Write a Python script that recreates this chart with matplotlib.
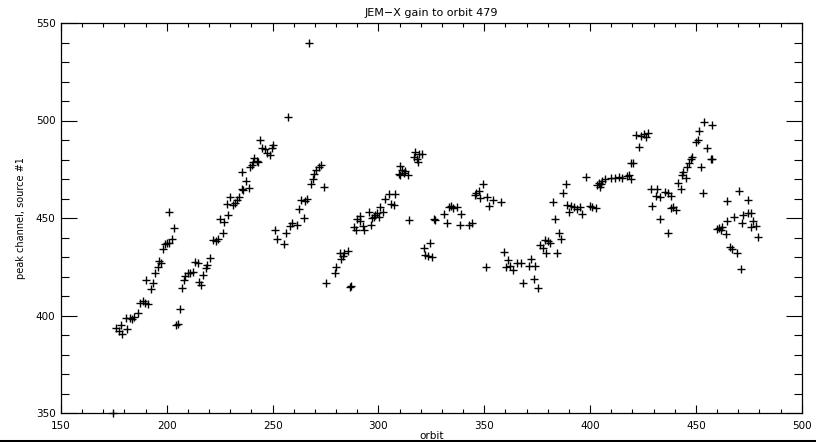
import matplotlib
matplotlib.use("Agg")
import matplotlib.pyplot as plt
from matplotlib.lines import Line2D
from matplotlib.ticker import MultipleLocator

# orbit numbers and peak channel values
orbit = [
    174.6, 267.3, 257.4,
    # group A
    176.0, 177.6, 178.2, 179.0, 180.7, 181.4, 182.6, 183.4, 184.5, 186.6, 187.4, 188.9,
    189.7, 191.3, 192.4, 190.2, 193.4, 194.5, 195.6, 196.5, 197.3, 198.4, 199.3, 200.0,
    200.8, 202.4, 203.5, 201.0,
    # group B
    204.4, 205.2, 206.3, 207.1, 207.9, 208.8, 209.8, 211.0, 212.3, 213.4, 214.7, 215.1,
    216.2, 217.3, 218.3, 219.2, 220.5, 222.0, 223.3, 224.4, 226.5, 224.9, 227.0, 228.3,
    229.1, 229.9, 231.5, 232.3, 233.1, 233.9, 235.5, 236.2, 238.6, 237.4, 235.5, 239.4,
    240.2, 240.9, 241.3, 242.5, 243.3, 244.1, 244.9, 246.5, 247.3, 248.6, 249.6, 250.1,
    # group C
    251.2, 252.3, 255.5, 256.4, 258.0, 259.1, 261.5, 262.3, 263.5, 264.6, 265.4, 266.2,
    268.1, 269.0, 269.7, 270.6, 271.7, 272.8, 274.4,
    # group D
    275.2, 279.3, 280.1, 281.6, 282.3, 283.3, 283.9, 285.4, 286.4, 287.0, 288.3, 289.5,
    290.1, 291.1, 291.4, 292.5, 293.0, 295.4, 296.5, 297.0, 297.7, 298.5, 299.3, 300.1,
    300.9, 302.2, 303.3, 304.8, 306.0, 307.5, 308.0, 309.6, 310.0, 310.4, 311.1, 312.3,
    312.7, 313.8, 314.3, 316.7, 317.5, 318.3, 318.6, 319.0, 320.6,
    # group E
    321.6, 322.2, 323.5, 324.3, 325.3, 326.1, 326.9, 331.2, 332.4, 333.2, 334.3, 335.3,
    337.2, 338.4, 339.2, 342.7, 344.3, 345.4, 346.3, 347.4, 348.2, 349.5, 350.6, 351.3,
    352.1, 354.2, 358.0,
    # group F
    359.2, 360.5, 361.1, 362.1, 363.7, 365.6, 367.5, 368.4, 371.0, 372.2, 373.4, 374.2,
    375.3, 376.3, 377.6, 378.6, 379.0, 380.0, 381.3, 382.6, 383.2, 384.2, 385.3, 386.1,
    387.3, 388.4,
    # group G
    389.2, 390.0, 390.8, 392.3, 393.9, 395.2, 396.3, 398.3, 399.9, 401.0, 402.6, 403.4,
    404.2, 404.6, 405.0, 405.7, 406.9, 410.0, 412.0, 413.6, 415.2, 417.6, 418.3, 419.5,
    419.2, 420.5, 421.5, 423.3, 423.9, 425.4, 426.3, 427.3, 428.6, 429.4, 431.0, 431.5,
    433.0, 433.1, 435.3, 436.6, 436.8, 438.1,
    # group H
    438.1, 439.3, 440.4, 441.6, 442.8, 443.6, 444.1, 445.2, 445.7, 446.8, 447.9, 448.4,
    450.0, 451.0, 451.5, 452.6, 453.5, 453.9, 455.4, 457.0, 457.8, 457.8, 459.8, 460.9,
    461.9, 462.2, 464.1, 464.6, 464.9, 466.1, 467.2, 468.0, 469.3, 470.4, 471.5, 472.0,
    472.4, 474.6, 474.6, 475.9, 475.9, 477.2, 478.3, 479.4,
]

peak = [
    350.0, 540.0, 502.0,
    # group A
    393.4, 392.1, 395.0, 390.4, 398.9, 393.1, 398.9, 398.0, 399.4, 401.1, 406.3, 407.6,
    406.6, 405.9, 413.4, 418.1, 416.5, 422.0, 424.7, 428.1, 426.8, 434.0, 436.7, 437.3,
    437.0, 439.2, 445.0, 453.0,
    # group B
    395.0, 395.5, 403.3, 414.3, 418.2, 420.3, 421.6, 421.9, 422.3, 427.3, 426.9, 417.2,
    415.6, 420.8, 424.2, 425.7, 429.6, 438.7, 438.4, 439.2, 442.1, 449.3, 448.0, 457.0,
    451.4, 460.6, 456.5, 457.8, 459.2, 460.6, 464.7, 464.4, 465.5, 468.8, 473.4, 476.0,
    477.2, 478.7, 480.6, 479.4, 478.9, 490.0, 486.1, 485.2, 483.2, 482.2, 485.7, 487.6,
    # group C
    443.8, 439.0, 436.7, 442.5, 446.0, 447.2, 446.6, 454.6, 459.2, 450.2, 458.9, 459.7,
    467.3, 469.8, 472.6, 474.6, 476.3, 477.0, 466.1,
    # group D
    416.5, 422.0, 424.7, 432.2, 429.1, 430.5, 431.9, 433.2, 414.8, 415.1, 445.2, 443.8,
    449.5, 448.6, 451.2, 445.9, 443.8, 453.2, 446.4, 449.8, 450.7, 451.5, 452.4, 450.3,
    455.8, 453.2, 459.6, 462.3, 457.2, 456.5, 462.3, 472.6, 476.7, 472.1, 474.6, 473.3,
    474.3, 472.1, 449.0, 481.4, 484.0, 480.1, 478.9, 482.8, 482.8,
    # group E
    434.5, 431.0, 430.3, 437.2, 430.0, 449.3, 449.0, 452.1, 447.3, 455.8, 456.2, 455.0,
    455.5, 446.4, 451.9, 446.4, 447.6, 461.8, 462.7, 464.0, 460.1, 467.3, 424.7, 460.6,
    456.2, 459.2, 458.0,
    # group F
    432.4, 425.0, 428.5, 425.5, 423.3, 427.1, 426.8, 416.5, 425.5, 428.8, 418.6, 425.5,
    414.3, 436.2, 434.8, 438.7, 432.2, 438.2, 437.3, 458.4, 449.3, 432.2, 442.1, 439.2,
    463.0, 467.4,
    # group G
    456.5, 452.9, 456.2, 455.5, 454.5, 455.8, 452.1, 470.9, 456.2, 455.8, 455.1, 466.9,
    468.1, 465.7, 467.4, 469.1, 469.8, 470.4, 470.4, 470.9, 470.4, 471.5, 472.1, 470.2,
    478.4, 478.4, 492.4, 486.3, 492.1, 493.1, 491.4, 493.8, 464.7, 456.2, 461.3, 465.0,
    449.6, 460.9, 463.3, 462.7, 442.1, 461.3,
    # group H
    455.1, 455.5, 454.1, 468.1, 464.7, 472.1, 473.7, 470.4, 476.3, 478.4, 480.1, 481.4,
    489.1, 490.0, 494.8, 476.0, 463.0, 499.2, 485.7, 480.1, 480.4, 497.5, 444.2, 444.7,
    443.8, 445.5, 441.8, 458.9, 448.3, 435.3, 433.9, 450.4, 431.9, 463.8, 424.0, 447.6,
    451.4, 452.4, 459.2, 452.7, 445.5, 448.6, 446.0, 440.1,
]

title = "JEM\u2212X gain to orbit 479"
xlabel = "orbit"
ylabel = "peak channel, source #1"

W, H = 816, 442
fig = plt.figure(figsize=(W / 100, H / 100), dpi=100)
ax = fig.add_axes([61 / W, 1 - 413 / H, (801.7 - 61) / W, (413 - 23) / H])

ax.plot(orbit, peak, linestyle="none", marker="+", markersize=6,
        markeredgewidth=1.0, color="black", clip_on=False)

ax.set_xlim(150, 500)
ax.set_ylim(350, 550)
ax.xaxis.set_major_locator(MultipleLocator(50))
ax.xaxis.set_minor_locator(MultipleLocator(10))
ax.yaxis.set_major_locator(MultipleLocator(50))
ax.yaxis.set_minor_locator(MultipleLocator(10))

for s in ax.spines.values():
    s.set_linewidth(0.9)

ax.tick_params(axis="x", which="major", direction="in", length=5.8, width=0.8,
               top=True, bottom=True, labelsize=7.5, pad=6)
ax.tick_params(axis="x", which="minor", direction="in", length=2.9, width=0.8,
               top=True, bottom=True)
ax.tick_params(axis="y", which="major", direction="in", length=11.2, width=0.8,
               left=True, right=True, labelsize=7.5, pad=4)
ax.tick_params(axis="y", which="minor", direction="in", length=5.8, width=0.8,
               left=True, right=True)

ax.set_title(title, fontsize=8, pad=5)
ax.set_xlabel(xlabel, fontsize=7.5, labelpad=0)
ax.set_ylabel(ylabel, fontsize=7, labelpad=7)

fig.add_artist(Line2D([0, 1], [1.5 / H, 1.5 / H], transform=fig.transFigure,
                      color="black", linewidth=2.2))

fig.savefig("out.png", dpi=100, facecolor="white")
